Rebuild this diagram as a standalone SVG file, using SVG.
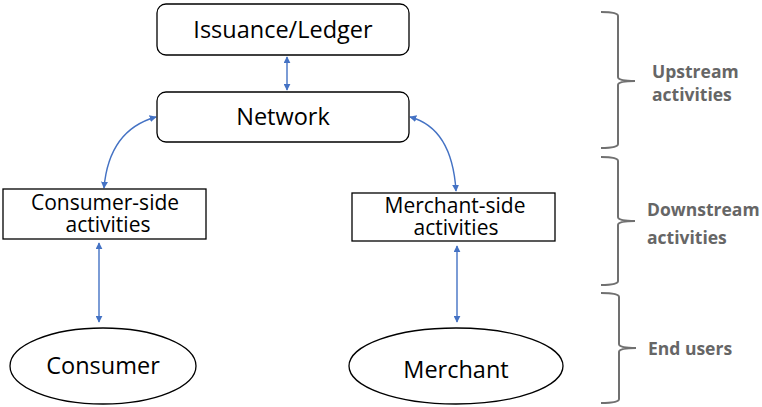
<svg xmlns="http://www.w3.org/2000/svg" width="762" height="407" viewBox="0 0 762 407">
<defs>
<marker id="ah" viewBox="0 0 10 10" refX="9" refY="5" markerWidth="7" markerHeight="7" markerUnits="userSpaceOnUse" orient="auto-start-reverse">
<path d="M0,0 L10,5 L0,10 z" fill="#4472C4"/>
</marker>
<style>
.box{fill:#fff;stroke:#000;stroke-width:1.3}
.t{font-family:"Open Sans","Liberation Sans",sans-serif;font-size:23.5px;fill:#000;text-anchor:middle}
.t2{font-family:"Open Sans","Liberation Sans",sans-serif;font-size:21px;fill:#000;text-anchor:middle}
.c{fill:none;stroke:#4472C4;stroke-width:1.4;marker-start:url(#ah);marker-end:url(#ah)}
.br{fill:none;stroke:#707070;stroke-width:2}
.lb{font-family:"Open Sans","Liberation Sans",sans-serif;font-size:17.5px;font-weight:bold;fill:#666}
</style>
</defs>
<rect width="762" height="407" fill="#fff"/>
<g id="connectors">
<path class="c" d="M287,57 L287,90"/>
<path class="c" d="M156,117 Q109,130 104,188"/>
<path class="c" d="M410,117 Q452,128 456,191"/>
<path class="c" d="M99,243 L99,322"/>
<path class="c" d="M457,246 L457,322"/>
</g>
<g id="issuance">
<rect class="box" x="157" y="4" width="252" height="51" rx="9"/>
<text class="t" x="283" y="38">Issuance/Ledger</text>
</g>
<g id="network">
<rect class="box" x="157" y="92" width="252" height="50" rx="9"/>
<text class="t" x="283" y="125">Network</text>
</g>
<g id="consumer-side">
<rect class="box" x="3" y="189" width="203" height="50"/>
<text class="t2" x="105" y="210">Consumer-side</text>
<text class="t2" x="108" y="232">activities</text>
</g>
<g id="merchant-side">
<rect class="box" x="352" y="193" width="203" height="48"/>
<text class="t2" x="455" y="213">Merchant-side</text>
<text class="t2" x="456" y="235">activities</text>
</g>
<g id="consumer">
<ellipse class="box" cx="103" cy="366" rx="93" ry="38"/>
<text class="t" x="103" y="374">Consumer</text>
</g>
<g id="merchant">
<ellipse class="box" cx="456" cy="366" rx="107" ry="38"/>
<text class="t" x="456" y="378">Merchant</text>
</g>
<g id="upstream">
<path class="br" d="M601,12 Q618,12 618,16 L618,77 Q618,81 635,81 Q618,81 618,85 L618,144 Q618,148 601,148"/>
<text class="lb" x="652" y="78">Upstream</text>
<text class="lb" x="652" y="101">activities</text>
</g>
<g id="downstream">
<path class="br" d="M601,157 Q618,157 618,161 L618,217 Q618,221 635,221 Q618,221 618,225 L618,281 Q618,285 601,285"/>
<text class="lb" x="647" y="216">Downstream</text>
<text class="lb" x="647" y="244">activities</text>
</g>
<g id="endusers">
<path class="br" d="M601,293 Q619,293 619,297 L619,344 Q619,348 636,348 Q619,348 619,352 L619,399 Q619,403 601,403"/>
<text class="lb" x="648" y="355">End users</text>
</g>
</svg>
